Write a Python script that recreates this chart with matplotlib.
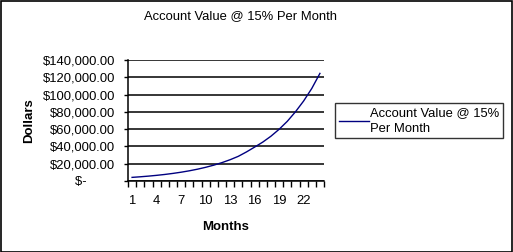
import matplotlib
matplotlib.use("Agg")
import matplotlib.pyplot as plt
from matplotlib.patches import Rectangle
from matplotlib.ticker import FixedLocator, FuncFormatter

# account value, months 1..24
months = list(range(1, 25))
values = [4200, 4870, 5640, 6540, 7570, 8780, 10170, 11780, 13650, 15820,
          18330, 21240, 24610, 28520, 33600, 39200, 45000, 51800, 59800, 69000,
          80000, 92500, 107000, 124500]
month_labels = [1, 4, 7, 10, 13, 16, 19, 22]
yticks = [0, 20000, 40000, 60000, 80000, 100000, 120000, 140000]

plt.rcParams['font.family'] = ['Liberation Sans', 'DejaVu Sans']

W, H = 513, 252
fig = plt.figure(figsize=(W / 100, H / 100), dpi=100)
fig.patches.append(Rectangle((0.5 / W, 0.5 / H), 1 - 1.5 / W, 1 - 1.5 / H,
                             transform=fig.transFigure, fill=False,
                             edgecolor='black', lw=1.2))

ax = fig.add_axes([128 / W, (H - 181) / H, 196 / W, 121 / H])
ax.plot(months, values, color='#000080', lw=1.0, label='Account Value @ 15%\nPer Month')

ax.set_xlim(0.5, 24.5)
ax.set_ylim(0, 140000)

def money(v, pos):
    if v == 0:
        return '$-        '
    return f'${v:,.2f}'

ax.yaxis.set_major_locator(FixedLocator(yticks))
ax.yaxis.set_major_formatter(FuncFormatter(money))
ax.tick_params(axis='y', length=3, width=1, direction='out', labelsize=9.4, pad=6, colors='black')
ax.grid(axis='y', color='black', lw=1.1)

ax.set_xticks(month_labels)
ax.set_xticks([m + 0.5 for m in range(0, 25)], minor=True)
ax.tick_params(axis='x', which='major', length=0, labelsize=9.4, pad=10)
ax.tick_params(axis='x', which='minor', length=4, width=1, direction='out')

for s in ['top', 'right']:
    ax.spines[s].set_visible(False)
for s in ['left', 'bottom']:
    ax.spines[s].set_linewidth(1.1)

ax.set_xlabel('Months', fontsize=9.5, fontweight='bold', labelpad=10)
ax.set_ylabel('Dollars', fontsize=9.5, fontweight='bold', labelpad=6)

fig.text(241 / W, 1 - 16 / H, 'Account Value @ 15% Per Month', ha='center', va='center', fontsize=9.4)

leg = fig.legend(loc='upper left', bbox_to_anchor=(335 / W, 1 - 103 / H),
                 frameon=True, fancybox=False, fontsize=9.4, handlelength=2.3,
                 handletextpad=0.1, borderpad=0.3, borderaxespad=0)
leg.get_frame().set_edgecolor('black')
leg.get_frame().set_linewidth(1.0)
for t in leg.get_texts():
    t.set_linespacing(1.4)

fig.savefig('out.png', dpi=100)
